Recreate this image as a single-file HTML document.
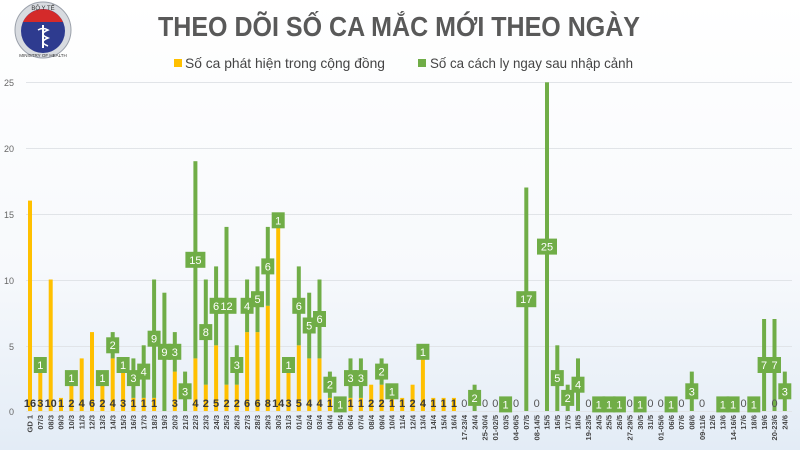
<!DOCTYPE html>
<html><head><meta charset="utf-8"><style>
html,body{margin:0;padding:0}
body{width:800px;height:450px;overflow:hidden;background:linear-gradient(#ffffff 0%,#f7f9fc 60%,#e3ecf6 100%);font-family:"Liberation Sans",sans-serif}
svg{display:block}
.y{fill:#ffc000}.g{fill:#70ad47}
.yl{font:bold 11px "Liberation Sans",sans-serif;fill:#3a3a3a;text-anchor:middle}
.zl{font:11px "Liberation Sans",sans-serif;fill:#555;text-anchor:middle}
.bl{font:11px "Liberation Sans",sans-serif;fill:#fff;text-anchor:middle}
.xl{font:bold 7.5px "Liberation Sans",sans-serif;fill:#444;text-anchor:end}
.ax{font:9px "Liberation Sans",sans-serif;fill:#666;text-anchor:end}
</style></head><body>
<svg width="800" height="450" xmlns="http://www.w3.org/2000/svg">
<circle cx="43" cy="30" r="28" fill="#d8dbe0" stroke="#9aa0aa" stroke-width="1"/>
<circle cx="43" cy="31" r="22" fill="#2e3b8f"/>
<path d="M23 22 A22 22 0 0 1 63 22 Z" fill="#d42a2a"/>
<text x="43" y="10" font-size="6" fill="#333" text-anchor="middle" font-family="Liberation Sans">BỘ Y TẾ</text>
<path d="M43 25 V48" stroke="#fff" stroke-width="2"/>
<path d="M38 30 q5 -3 10 0 q-10 4 0 8 q-10 4 0 8" stroke="#fff" stroke-width="1.5" fill="none"/>
<text x="43" y="57" font-size="4.5" fill="#333" text-anchor="middle" font-family="Liberation Sans">MINISTRY OF HEALTH</text>
<text x="158" y="36" font-family="Liberation Sans" font-weight="bold" font-size="28" fill="#595959" textLength="482" lengthAdjust="spacingAndGlyphs">THEO DÕI SỐ CA MẮC MỚI THEO NGÀY</text>
<rect x="174" y="59" width="8" height="8" fill="#ffc000"/>
<text x="185" y="68" font-family="Liberation Sans" font-size="14" fill="#444" textLength="200" lengthAdjust="spacingAndGlyphs">Số ca phát hiện trong cộng đồng</text>
<rect x="418" y="59" width="8" height="8" fill="#70ad47"/>
<text x="430" y="68" font-family="Liberation Sans" font-size="14" fill="#444" textLength="203" lengthAdjust="spacingAndGlyphs">Số ca cách ly ngay sau nhập cảnh</text>
<g stroke="#e1e4e8" stroke-width="1">
<line x1="26" x2="792" y1="82.5" y2="82.5"/><line x1="26" x2="792" y1="148.5" y2="148.5"/><line x1="26" x2="792" y1="214.5" y2="214.5"/><line x1="26" x2="792" y1="280.5" y2="280.5"/><line x1="26" x2="792" y1="346.5" y2="346.5"/><line x1="26" x2="792" y1="411.5" y2="411.5"/>
</g>
<g class="ax"><text x="14" y="86" class="ax">25</text><text x="14" y="152" class="ax">20</text><text x="14" y="218" class="ax">15</text><text x="14" y="284" class="ax">10</text><text x="14" y="350" class="ax">5</text><text x="14" y="415" class="ax">0</text></g>
<g class="y">
<rect x="28" y="200.6" width="4" height="210.4"/>
<rect x="38.3" y="371.6" width="4" height="39.4"/>
<rect x="48.7" y="279.5" width="4" height="131.5"/>
<rect x="59" y="397.9" width="4" height="13.1"/>
<rect x="69.4" y="384.7" width="4" height="26.3"/>
<rect x="79.7" y="358.4" width="4" height="52.6"/>
<rect x="90" y="332.1" width="4" height="78.9"/>
<rect x="100.4" y="384.7" width="4" height="26.3"/>
<rect x="110.7" y="358.4" width="4" height="52.6"/>
<rect x="121.1" y="371.6" width="4" height="39.4"/>
<rect x="131.4" y="397.9" width="4" height="13.1"/>
<rect x="141.7" y="397.9" width="4" height="13.1"/>
<rect x="152.1" y="397.9" width="4" height="13.1"/>
<rect x="172.8" y="371.6" width="4" height="39.4"/>
<rect x="193.4" y="358.4" width="4" height="52.6"/>
<rect x="203.8" y="384.7" width="4" height="26.3"/>
<rect x="214.1" y="345.3" width="4" height="65.7"/>
<rect x="224.5" y="384.7" width="4" height="26.3"/>
<rect x="234.8" y="384.7" width="4" height="26.3"/>
<rect x="245.1" y="332.1" width="4" height="78.9"/>
<rect x="255.5" y="332.1" width="4" height="78.9"/>
<rect x="265.8" y="305.8" width="4" height="105.2"/>
<rect x="276.2" y="226.9" width="4" height="184.1"/>
<rect x="286.5" y="371.6" width="4" height="39.4"/>
<rect x="296.8" y="345.3" width="4" height="65.7"/>
<rect x="307.2" y="358.4" width="4" height="52.6"/>
<rect x="317.5" y="358.4" width="4" height="52.6"/>
<rect x="327.9" y="397.9" width="4" height="13.1"/>
<rect x="348.5" y="397.9" width="4" height="13.1"/>
<rect x="358.9" y="397.9" width="4" height="13.1"/>
<rect x="369.2" y="384.7" width="4" height="26.3"/>
<rect x="379.6" y="384.7" width="4" height="26.3"/>
<rect x="389.9" y="397.9" width="4" height="13.1"/>
<rect x="400.2" y="397.9" width="4" height="13.1"/>
<rect x="410.6" y="384.7" width="4" height="26.3"/>
<rect x="420.9" y="358.4" width="4" height="52.6"/>
<rect x="431.3" y="397.9" width="4" height="13.1"/>
<rect x="441.6" y="397.9" width="4" height="13.1"/>
<rect x="451.9" y="397.9" width="4" height="13.1"/>
</g>
<g class="g">
<rect x="38.3" y="358.4" width="4" height="13.2"/>
<rect x="69.4" y="371.6" width="4" height="13.1"/>
<rect x="100.4" y="371.6" width="4" height="13.1"/>
<rect x="110.7" y="332.1" width="4" height="26.3"/>
<rect x="121.1" y="358.4" width="4" height="13.2"/>
<rect x="131.4" y="358.4" width="4" height="39.5"/>
<rect x="141.7" y="345.3" width="4" height="52.6"/>
<rect x="152.1" y="279.5" width="4" height="118.4"/>
<rect x="162.4" y="292.7" width="4" height="118.3"/>
<rect x="172.8" y="332.1" width="4" height="39.5"/>
<rect x="183.1" y="371.6" width="4" height="39.4"/>
<rect x="193.4" y="161.2" width="4" height="197.2"/>
<rect x="203.8" y="279.5" width="4" height="105.2"/>
<rect x="214.1" y="266.4" width="4" height="78.9"/>
<rect x="224.5" y="226.9" width="4" height="157.8"/>
<rect x="234.8" y="345.3" width="4" height="39.4"/>
<rect x="245.1" y="279.5" width="4" height="52.6"/>
<rect x="255.5" y="266.4" width="4" height="65.7"/>
<rect x="265.8" y="226.9" width="4" height="78.9"/>
<rect x="276.2" y="213.8" width="4" height="13.1"/>
<rect x="286.5" y="358.4" width="4" height="13.2"/>
<rect x="296.8" y="266.4" width="4" height="78.9"/>
<rect x="307.2" y="292.7" width="4" height="65.7"/>
<rect x="317.5" y="279.5" width="4" height="78.9"/>
<rect x="327.9" y="371.6" width="4" height="26.3"/>
<rect x="338.2" y="397.9" width="4" height="13.1"/>
<rect x="348.5" y="358.4" width="4" height="39.5"/>
<rect x="358.9" y="358.4" width="4" height="39.5"/>
<rect x="379.6" y="358.4" width="4" height="26.3"/>
<rect x="389.9" y="384.7" width="4" height="13.2"/>
<rect x="420.9" y="345.3" width="4" height="13.1"/>
<rect x="472.6" y="384.7" width="4" height="26.3"/>
<rect x="503.6" y="397.9" width="4" height="13.1"/>
<rect x="524.3" y="187.5" width="4" height="223.5"/>
<rect x="545" y="82.3" width="4" height="328.7"/>
<rect x="555.3" y="345.3" width="4" height="65.7"/>
<rect x="565.7" y="384.7" width="4" height="26.3"/>
<rect x="576" y="358.4" width="4" height="52.6"/>
<rect x="596.7" y="397.9" width="4" height="13.1"/>
<rect x="607" y="397.9" width="4" height="13.1"/>
<rect x="617.4" y="397.9" width="4" height="13.1"/>
<rect x="638.1" y="397.9" width="4" height="13.1"/>
<rect x="669.1" y="397.9" width="4" height="13.1"/>
<rect x="689.8" y="371.6" width="4" height="39.4"/>
<rect x="720.8" y="397.9" width="4" height="13.1"/>
<rect x="731.1" y="397.9" width="4" height="13.1"/>
<rect x="751.8" y="397.9" width="4" height="13.1"/>
<rect x="762.1" y="319" width="4" height="92"/>
<rect x="772.5" y="319" width="4" height="92"/>
<rect x="782.8" y="371.6" width="4" height="39.4"/>
</g>
<g class="g">
<rect x="33.8" y="357" width="13" height="16"/>
<rect x="64.9" y="370.1" width="13" height="16"/>
<rect x="95.9" y="370.1" width="13" height="16"/>
<rect x="106.2" y="337.3" width="13" height="16"/>
<rect x="116.6" y="357" width="13" height="16"/>
<rect x="126.9" y="370.1" width="13" height="16"/>
<rect x="137.2" y="363.6" width="13" height="16"/>
<rect x="147.6" y="330.7" width="13" height="16"/>
<rect x="157.9" y="343.8" width="13" height="16"/>
<rect x="168.3" y="343.8" width="13" height="16"/>
<rect x="178.6" y="383.3" width="13" height="16"/>
<rect x="185.4" y="251.8" width="20" height="16"/>
<rect x="199.3" y="324.1" width="13" height="16"/>
<rect x="209.6" y="297.8" width="13" height="16"/>
<rect x="216.5" y="297.8" width="20" height="16"/>
<rect x="230.3" y="357" width="13" height="16"/>
<rect x="240.6" y="297.8" width="13" height="16"/>
<rect x="251" y="291.2" width="13" height="16"/>
<rect x="261.3" y="258.4" width="13" height="16"/>
<rect x="271.7" y="212.3" width="13" height="16"/>
<rect x="282" y="357" width="13" height="16"/>
<rect x="292.3" y="297.8" width="13" height="16"/>
<rect x="302.7" y="317.5" width="13" height="16"/>
<rect x="313" y="311" width="13" height="16"/>
<rect x="323.4" y="376.7" width="13" height="16"/>
<rect x="333.7" y="396.4" width="13" height="16"/>
<rect x="344" y="370.1" width="13" height="16"/>
<rect x="354.4" y="370.1" width="13" height="16"/>
<rect x="375.1" y="363.6" width="13" height="16"/>
<rect x="385.4" y="383.3" width="13" height="16"/>
<rect x="416.4" y="343.8" width="13" height="16"/>
<rect x="468.1" y="389.9" width="13" height="16"/>
<rect x="499.1" y="396.4" width="13" height="16"/>
<rect x="516.3" y="291.2" width="20" height="16"/>
<rect x="537" y="238.6" width="20" height="16"/>
<rect x="550.8" y="370.1" width="13" height="16"/>
<rect x="561.2" y="389.9" width="13" height="16"/>
<rect x="571.5" y="376.7" width="13" height="16"/>
<rect x="592.2" y="396.4" width="13" height="16"/>
<rect x="602.5" y="396.4" width="13" height="16"/>
<rect x="612.9" y="396.4" width="13" height="16"/>
<rect x="633.6" y="396.4" width="13" height="16"/>
<rect x="664.6" y="396.4" width="13" height="16"/>
<rect x="685.3" y="383.3" width="13" height="16"/>
<rect x="716.3" y="396.4" width="13" height="16"/>
<rect x="726.6" y="396.4" width="13" height="16"/>
<rect x="747.3" y="396.4" width="13" height="16"/>
<rect x="757.6" y="357" width="13" height="16"/>
<rect x="768" y="357" width="13" height="16"/>
<rect x="778.3" y="383.3" width="13" height="16"/>
</g>
<g class="bl">
<text x="40.3" y="369">1</text><text x="71.4" y="382">1</text><text x="102.4" y="382">1</text><text x="112.7" y="349">2</text><text x="123.1" y="369">1</text><text x="133.4" y="382">3</text><text x="143.7" y="375.5">4</text><text x="154.1" y="342.7">9</text><text x="164.4" y="355.8">9</text><text x="174.8" y="355.8">3</text><text x="185.1" y="395.3">3</text><text x="195.4" y="263.8">15</text><text x="205.8" y="336">8</text><text x="216.1" y="309.8">6</text><text x="226.5" y="309.8">12</text><text x="236.8" y="369">3</text><text x="247.1" y="309.8">4</text><text x="257.5" y="303.2">5</text><text x="267.8" y="270.4">6</text><text x="278.2" y="224.3">1</text><text x="288.5" y="369">1</text><text x="298.8" y="309.8">6</text><text x="309.2" y="329.5">5</text><text x="319.5" y="323">6</text><text x="329.9" y="388.7">2</text><text x="340.2" y="408.4">1</text><text x="350.5" y="382">3</text><text x="360.9" y="382">3</text><text x="381.6" y="375.5">2</text><text x="391.9" y="395.3">1</text><text x="422.9" y="355.8">1</text><text x="474.6" y="401.9">2</text><text x="505.6" y="408.4">1</text><text x="526.3" y="303.2">17</text><text x="547" y="250.6">25</text><text x="557.3" y="382">5</text><text x="567.7" y="401.9">2</text><text x="578" y="388.7">4</text><text x="598.7" y="408.4">1</text><text x="609" y="408.4">1</text><text x="619.4" y="408.4">1</text><text x="640.1" y="408.4">1</text><text x="671.1" y="408.4">1</text><text x="691.8" y="395.3">3</text><text x="722.8" y="408.4">1</text><text x="733.1" y="408.4">1</text><text x="753.8" y="408.4">1</text><text x="764.1" y="369">7</text><text x="774.5" y="369">7</text><text x="784.8" y="395.3">3</text>
</g>
<g class="yl">
<text x="30" y="407">16</text><text x="40.3" y="407">3</text><text x="50.7" y="407">10</text><text x="61" y="407">1</text><text x="71.4" y="407">2</text><text x="81.7" y="407">4</text><text x="92" y="407">6</text><text x="102.4" y="407">2</text><text x="112.7" y="407">4</text><text x="123.1" y="407">3</text><text x="133.4" y="407">1</text><text x="143.7" y="407">1</text><text x="154.1" y="407">1</text><text x="174.8" y="407">3</text><text x="195.4" y="407">4</text><text x="205.8" y="407">2</text><text x="216.1" y="407">5</text><text x="226.5" y="407">2</text><text x="236.8" y="407">2</text><text x="247.1" y="407">6</text><text x="257.5" y="407">6</text><text x="267.8" y="407">8</text><text x="278.2" y="407">14</text><text x="288.5" y="407">3</text><text x="298.8" y="407">5</text><text x="309.2" y="407">4</text><text x="319.5" y="407">4</text><text x="329.9" y="407">1</text><text x="350.5" y="407">1</text><text x="360.9" y="407">1</text><text x="371.2" y="407">2</text><text x="381.6" y="407">2</text><text x="391.9" y="407">1</text><text x="402.2" y="407">1</text><text x="412.6" y="407">2</text><text x="422.9" y="407">4</text><text x="433.3" y="407">1</text><text x="443.6" y="407">1</text><text x="453.9" y="407">1</text>
</g>
<g class="zl">
<text x="464.3" y="407">0</text><text x="485" y="407">0</text><text x="495.3" y="407">0</text><text x="516" y="407">0</text><text x="536.7" y="407">0</text><text x="588.4" y="407">0</text><text x="629.7" y="407">0</text><text x="650.4" y="407">0</text><text x="660.7" y="407">0</text><text x="681.4" y="407">0</text><text x="702.1" y="407">0</text><text x="743.5" y="407">0</text><text x="774.5" y="407">0</text>
</g>
<g class="xl">
<text transform="translate(32.7,415) rotate(-90)">GD 1</text>
<text transform="translate(43,415) rotate(-90)">07/3</text>
<text transform="translate(53.4,415) rotate(-90)">08/3</text>
<text transform="translate(63.7,415) rotate(-90)">09/3</text>
<text transform="translate(74.1,415) rotate(-90)">10/3</text>
<text transform="translate(84.4,415) rotate(-90)">11/3</text>
<text transform="translate(94.7,415) rotate(-90)">12/3</text>
<text transform="translate(105.1,415) rotate(-90)">13/3</text>
<text transform="translate(115.4,415) rotate(-90)">14/3</text>
<text transform="translate(125.8,415) rotate(-90)">15/3</text>
<text transform="translate(136.1,415) rotate(-90)">16/3</text>
<text transform="translate(146.4,415) rotate(-90)">17/3</text>
<text transform="translate(156.8,415) rotate(-90)">18/3</text>
<text transform="translate(167.1,415) rotate(-90)">19/3</text>
<text transform="translate(177.5,415) rotate(-90)">20/3</text>
<text transform="translate(187.8,415) rotate(-90)">21/3</text>
<text transform="translate(198.1,415) rotate(-90)">22/3</text>
<text transform="translate(208.5,415) rotate(-90)">23/3</text>
<text transform="translate(218.8,415) rotate(-90)">24/3</text>
<text transform="translate(229.2,415) rotate(-90)">25/3</text>
<text transform="translate(239.5,415) rotate(-90)">26/3</text>
<text transform="translate(249.8,415) rotate(-90)">27/3</text>
<text transform="translate(260.2,415) rotate(-90)">28/3</text>
<text transform="translate(270.5,415) rotate(-90)">29/3</text>
<text transform="translate(280.9,415) rotate(-90)">30/3</text>
<text transform="translate(291.2,415) rotate(-90)">31/3</text>
<text transform="translate(301.5,415) rotate(-90)">01/4</text>
<text transform="translate(311.9,415) rotate(-90)">02/4</text>
<text transform="translate(322.2,415) rotate(-90)">03/4</text>
<text transform="translate(332.6,415) rotate(-90)">04/4</text>
<text transform="translate(342.9,415) rotate(-90)">05/4</text>
<text transform="translate(353.2,415) rotate(-90)">06/4</text>
<text transform="translate(363.6,415) rotate(-90)">07/4</text>
<text transform="translate(373.9,415) rotate(-90)">08/4</text>
<text transform="translate(384.3,415) rotate(-90)">09/4</text>
<text transform="translate(394.6,415) rotate(-90)">10/4</text>
<text transform="translate(404.9,415) rotate(-90)">11/4</text>
<text transform="translate(415.3,415) rotate(-90)">12/4</text>
<text transform="translate(425.6,415) rotate(-90)">13/4</text>
<text transform="translate(436,415) rotate(-90)">14/4</text>
<text transform="translate(446.3,415) rotate(-90)">15/4</text>
<text transform="translate(456.6,415) rotate(-90)">16/4</text>
<text transform="translate(467,415) rotate(-90)">17-23/4</text>
<text transform="translate(477.3,415) rotate(-90)">24/4</text>
<text transform="translate(487.7,415) rotate(-90)">25-30/4</text>
<text transform="translate(498,415) rotate(-90)">01-02/5</text>
<text transform="translate(508.3,415) rotate(-90)">03/5</text>
<text transform="translate(518.7,415) rotate(-90)">04-06/5</text>
<text transform="translate(529,415) rotate(-90)">07/5</text>
<text transform="translate(539.4,415) rotate(-90)">08-14/5</text>
<text transform="translate(549.7,415) rotate(-90)">15/5</text>
<text transform="translate(560,415) rotate(-90)">16/5</text>
<text transform="translate(570.4,415) rotate(-90)">17/5</text>
<text transform="translate(580.7,415) rotate(-90)">18/5</text>
<text transform="translate(591.1,415) rotate(-90)">19-23/5</text>
<text transform="translate(601.4,415) rotate(-90)">24/5</text>
<text transform="translate(611.7,415) rotate(-90)">25/5</text>
<text transform="translate(622.1,415) rotate(-90)">26/5</text>
<text transform="translate(632.4,415) rotate(-90)">27-29/5</text>
<text transform="translate(642.8,415) rotate(-90)">30/5</text>
<text transform="translate(653.1,415) rotate(-90)">31/5</text>
<text transform="translate(663.4,415) rotate(-90)">01-05/6</text>
<text transform="translate(673.8,415) rotate(-90)">06/6</text>
<text transform="translate(684.1,415) rotate(-90)">07/6</text>
<text transform="translate(694.5,415) rotate(-90)">08/6</text>
<text transform="translate(704.8,415) rotate(-90)">09-11/6</text>
<text transform="translate(715.1,415) rotate(-90)">12/6</text>
<text transform="translate(725.5,415) rotate(-90)">13/6</text>
<text transform="translate(735.8,415) rotate(-90)">14-16/6</text>
<text transform="translate(746.2,415) rotate(-90)">17/6</text>
<text transform="translate(756.5,415) rotate(-90)">18/6</text>
<text transform="translate(766.8,415) rotate(-90)">19/6</text>
<text transform="translate(777.2,415) rotate(-90)">20-23/6</text>
<text transform="translate(787.5,415) rotate(-90)">24/6</text>
</g>
</svg>
</body></html>
